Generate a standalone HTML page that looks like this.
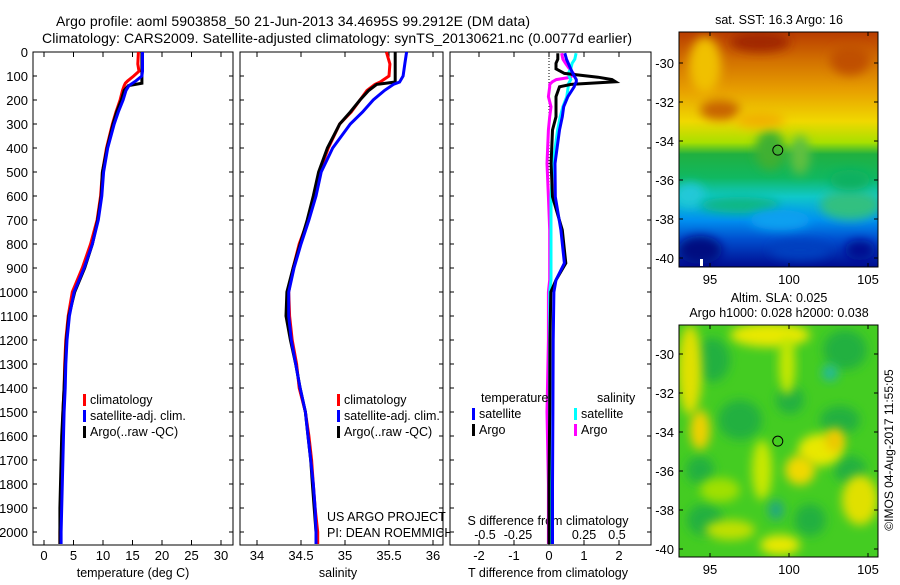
<!DOCTYPE html>
<html><head><meta charset="utf-8"><style>
html,body{margin:0;padding:0;background:#fff}
svg text{font-family:"Liberation Sans",sans-serif;fill:#000}
</style></head><body>
<svg id="c" width="900" height="580" viewBox="0 0 900 580" xmlns="http://www.w3.org/2000/svg">
<defs>
<linearGradient id="sstg" x1="0" y1="0" x2="0" y2="1">
<stop offset="0" stop-color="#b83c00"/><stop offset="0.12" stop-color="#d27000"/>
<stop offset="0.25" stop-color="#e8a000"/><stop offset="0.38" stop-color="#f0d800"/>
<stop offset="0.47" stop-color="#a8e000"/><stop offset="0.52" stop-color="#20b040"/>
<stop offset="0.62" stop-color="#10b860"/><stop offset="0.70" stop-color="#10c8c8"/>
<stop offset="0.80" stop-color="#0090f0"/><stop offset="0.88" stop-color="#0050d0"/>
<stop offset="1" stop-color="#000c90"/></linearGradient>
<filter id="bl" x="-50%" y="-50%" width="200%" height="200%"><feGaussianBlur stdDeviation="5"/></filter>
<clipPath id="cm1"><rect x="679" y="32" width="199" height="235"/></clipPath>
<clipPath id="cm2"><rect x="679" y="325" width="199" height="232"/></clipPath>
</defs>
<text x="293" y="26" text-anchor="middle" font-size="14" textLength="474">Argo profile: aoml 5903858_50 21-Jun-2013 34.4695S 99.2912E (DM data)</text>
<text x="337" y="43" text-anchor="middle" font-size="14" textLength="590">Climatology: CARS2009. Satellite-adjusted climatology: synTS_20130621.nc (0.0077d earlier)</text>
<g id="panels"></g>
<g id="maps"></g>
<text transform="translate(893,450) rotate(-90)" text-anchor="middle" font-size="12">©IMOS 04-Aug-2017 11:55:05</text>
</svg>
<script>
const NS="http://www.w3.org/2000/svg";
const depthTicks=[0,100,200,300,400,500,600,700,800,900,1000,1100,1200,1300,1400,1500,1600,1700,1800,1900,2000];
const tempTicks=[0,5,10,15,20,25,30];
const salTicks=[34,34.5,35,35.5,36];
const salTickLabels=["34","34.5","35","35.5","36"];
const tdTicks=[-2,-1,0,1,2];
const sdTicks=[-0.5,-0.25,0,0.25,0.5];
const sdTickLabels=["-0.5","-0.25","0","0.25","0.5"];
// temperature profiles
const tDepth=[0,50,80,100,120,130,140,160,200,250,300,400,500,600,700,800,900,1000,1100,1200,1300,1400,1500,1600,1700,1800,1900,2000,2050];
const tClim=[16.0,15.9,16.1,15.2,14.2,13.8,13.6,13.3,12.9,12.2,11.6,10.6,9.9,9.6,9.0,7.9,6.5,4.8,4.1,3.7,3.5,3.4,3.2,3.1,3.0,2.9,2.8,2.7,2.7];
const tSat=[16.7,16.7,16.7,16.6,15.6,15.0,14.4,13.9,13.4,12.6,11.9,10.8,10.1,9.8,9.2,8.2,6.8,5.1,4.3,3.9,3.7,3.6,3.4,3.3,3.2,3.1,3.0,2.9,2.9];
const tArgo=[16.6,16.6,16.6,16.6,16.6,16.6,14.3,13.6,13.1,12.3,11.7,10.7,9.9,9.7,9.1,8.2,6.9,5.2,4.2,3.8,3.6,3.4,3.2,3.0,2.9,2.8,2.7,2.7,2.7];
// salinity profiles
const sDepth=[0,50,100,125,135,160,200,250,300,400,500,600,700,800,900,1000,1100,1200,1300,1400,1500,1600,1700,1800,1900,2000,2050];
const sClim=[35.47,35.51,35.5,35.4,35.34,35.25,35.17,35.07,34.94,34.81,34.71,34.66,34.58,34.48,34.41,34.36,34.37,34.40,34.45,34.48,34.55,34.59,34.62,34.64,34.66,34.69,34.69];
const sSat=[35.7,35.68,35.66,35.62,35.55,35.45,35.32,35.2,35.06,34.86,34.73,34.67,34.59,34.50,34.42,34.36,34.36,34.39,34.44,34.49,34.55,34.58,34.61,34.64,34.66,34.67,34.67];
const sArgo=[35.57,35.57,35.57,35.57,35.36,35.27,35.17,35.06,34.94,34.80,34.70,34.64,34.57,34.49,34.41,34.34,34.33,34.38,34.44,34.49,34.55,34.58,34.61,34.63,34.65,34.67,34.67];
// difference profiles
const dDepth=[5,30,47,70,89,105,115,124,135,145,186,228,270,325,464,603,742,880,950,1000,1200,1500,1800,2050];
const tdSat=[0.45,0.5,0.55,0.62,0.68,0.74,0.78,0.78,0.74,0.72,0.54,0.42,0.38,0.3,0.17,0.18,0.34,0.44,0.2,0.14,0.12,0.11,0.1,0.1];
const tdArgo=[0.25,0.25,0.2,0.2,0.44,1.4,1.8,1.9,0.63,0.3,0.2,0.2,0.2,0.1,0.06,0.1,0.38,0.48,0.2,0.05,0.03,0.02,0.0,0.0];
const sdSat=[0.19,0.18,0.16,0.15,0.13,0.14,0.15,0.14,0.13,0.13,0.12,0.09,0.07,0.05,0.015,0.0,0.0,0.0,0.0,-0.01,-0.01,-0.01,-0.01,-0.01];
const sdArgo=[0.08,0.09,0.11,0.14,0.17,0.15,0.04,0.01,-0.01,-0.01,-0.02,0.0,-0.01,-0.02,-0.03,-0.02,-0.01,-0.01,-0.01,-0.02,-0.02,-0.03,-0.02,-0.02];

const TOP=52,BOT=545;
const yD=d=>TOP+d*0.24;
const P1={x0:33,x1:233}, P2={x0:240,x1:443}, P3={x0:450,x1:651};
const xT=v=>44+v*5.9;
const xS=v=>257+(v-34)*88;
const xTD=v=>549+v*35;
const xSD=v=>551+v*132;
const G=document.getElementById('panels');
function el(tag,attrs,parent){const e=document.createElementNS(NS,tag);for(const k in attrs)e.setAttribute(k,attrs[k]);(parent||G).appendChild(e);return e;}
function txt(x,y,s,size,anchor,parent){const t=el('text',{x:x,y:y,'font-size':size,'text-anchor':anchor||'middle'},parent);t.textContent=s;return t;}
function frame(P,name){
  const r=el('rect',{x:P.x0,y:TOP,width:P.x1-P.x0,height:BOT-TOP,fill:'#fff',stroke:'#000','stroke-width':1});
  
  
  depthTicks.forEach(d=>{el('line',{x1:P.x0,x2:P.x0+4,y1:yD(d),y2:yD(d),stroke:'#000'});el('line',{x1:P.x1-4,x2:P.x1,y1:yD(d),y2:yD(d),stroke:'#000'});});
}
function xticks(vals,fx,P,labels,ly,name){
  vals.forEach((v,i)=>{const x=fx(v);el('line',{x1:x,x2:x,y1:TOP,y2:TOP+5,stroke:'#000'});el('line',{x1:x,x2:x,y1:BOT-5,y2:BOT,stroke:'#000'});
    if(labels){const t=txt(x,ly,labels[i],13);}});
}
function line(depths,vals,fx,color,name,w){
  let d='';depths.forEach((dp,i)=>{d+=(i?'L':'M')+fx(vals[i]).toFixed(1)+','+yD(dp).toFixed(1);});
  const p=el('path',{d:d,fill:'none',stroke:color,'stroke-width':w||3,'stroke-linejoin':'miter'});
  
  
}
function legend(x,y,items){
  items.forEach((it,i)=>{el('rect',{x:x,y:y+i*16-10,width:3,height:12,fill:it[1]});txt(x+7,y+i*16,it[0],12.5,'start');});
}
depthTicks.forEach(d=>{const t=txt(28,yD(d)+5,String(d),13,'end');});
frame(P1,'temperature-panel');
xticks(tempTicks,xT,P1,tempTicks.map(String),560,'temperature-tick-label');
txt(133,577,'temperature (deg C)',12.5);
line(tDepth,tClim,xT,'#f00','temp-climatology-line');
line(tDepth,tArgo,xT,'#000','temp-argo-line');
line(tDepth,tSat,xT,'#00f','temp-satellite-line');
legend(83,404,[['climatology','#f00'],['satellite-adj. clim.','#00f'],['Argo(..raw -QC)','#000']]);
frame(P2,'salinity-panel');
xticks(salTicks,xS,P2,salTickLabels,560,'salinity-tick-label');
txt(338,577,'salinity',12.5);
line(sDepth,sClim,xS,'#f00','sal-climatology-line');
line(sDepth,sArgo,xS,'#000','sal-argo-line');
line(sDepth,sSat,xS,'#00f','sal-satellite-line');
legend(337,404,[['climatology','#f00'],['satellite-adj. clim.','#00f'],['Argo(..raw -QC)','#000']]);
txt(327,521,'US ARGO PROJECT',12.5,'start');
txt(327,537,'PI: DEAN ROEMMICH',12.5,'start');
frame(P3,'difference-panel');
xticks(tdTicks,xTD,P3,tdTicks.map(String),560,'tdiff-tick-label');
sdTicks.forEach((v,i)=>{const t=txt(xSD(v),539,sdTickLabels[i],12.5);});
txt(548,525,'S difference from climatology',12.5);
txt(548,577,'T difference from climatology',12.5);
el('line',{x1:xTD(0),x2:xTD(0),y1:TOP,y2:BOT,stroke:'#000','stroke-dasharray':'1,2'});
line(dDepth,sdArgo,xSD,'#f0f','sdiff-argo-line');
line(dDepth,sdSat,xSD,'#0ff','sdiff-satellite-line');
line(dDepth,tdArgo,xTD,'#000','tdiff-argo-line');
line(dDepth,tdSat,xTD,'#00f','tdiff-satellite-line');
txt(481,402,'temperature',12.5,'start');
txt(597,402,'salinity',12.5,'start');
legend(472,418,[['satellite','#00f'],['Argo','#000']]);
legend(574,418,[['satellite','#0ff'],['Argo','#f0f']]);

const M=document.getElementById('maps');
const lonTicks=[95,100,105];
const latTicks=[-30,-32,-34,-36,-38,-40];
const xL=lon=>710+(lon-95)*15.8;
function mapFrame(y0,y1,yl,name){
  const r=el('rect',{x:679,y:y0,width:199,height:y1-y0,fill:'none',stroke:'#000'},M);
  
  
  lonTicks.forEach(v=>{el('line',{x1:xL(v),x2:xL(v),y1:y0,y2:y0+4,stroke:'#000'},M);el('line',{x1:xL(v),x2:xL(v),y1:y1-4,y2:y1,stroke:'#000'},M);txt(xL(v),y1+17,String(v),13,'middle',M);});
  latTicks.forEach(v=>{const y=yl(v);el('line',{x1:679,x2:683,y1:y,y2:y,stroke:'#000'},M);el('line',{x1:874,x2:878,y1:y,y2:y,stroke:'#000'},M);txt(674,y+5,String(v),13,'end',M);});
}
const yL1=lat=>63+(-30-lat)*19.5;
txt(779,24,'sat. SST: 16.3 Argo: 16',12.5,'middle',M);
const g1=el('g',{'clip-path':'url(#cm1)'},M);
el('rect',{x:679,y:32,width:199,height:235,fill:'url(#sstg)'},g1);
const sstBlobs=[[705,65,16,28,'#f0c000'],[760,42,30,10,'#a02800'],[850,60,20,15,'#c05000'],[720,110,20,10,'#c86400'],[770,150,15,20,'#40b030'],[800,155,10,20,'#60c040'],[690,195,15,12,'#20c8d8'],[740,205,40,8,'#10b880'],[850,205,30,15,'#30c080'],[700,250,22,14,'#001080'],[800,250,30,10,'#0040c0'],[860,250,15,10,'#001090'],[780,220,30,10,'#10a0f0'],[850,180,20,10,'#10b060'],[760,120,25,8,'#f0b000']];
sstBlobs.forEach(b=>el('ellipse',{cx:b[0],cy:b[1],rx:b[2],ry:b[3],fill:b[4],filter:'url(#bl)'},g1));
el('rect',{x:700,y:259,width:3,height:7,fill:'#fff'},g1);
mapFrame(32,267,yL1,'sst-map');
el('circle',{cx:xL(99.29),cy:yL1(-34.47),r:5,fill:'none',stroke:'#000'},M);
const yL2=lat=>354+(-30-lat)*19.5;
txt(779,302,'Altim. SLA: 0.025',12.5,'middle',M);
txt(779,317,'Argo h1000: 0.028 h2000: 0.038',12.5,'middle',M);
const g2=el('g',{'clip-path':'url(#cm2)'},M);
el('rect',{x:679,y:325,width:199,height:232,fill:'#44cc22'},g2);
const slaBlobs=[[712,360,18,22,'#20b040'],[740,420,22,20,'#20b040'],[700,470,14,14,'#20b040'],[845,350,22,20,'#20b040'],[840,420,20,14,'#20b040'],[790,400,14,14,'#20b040'],[705,520,18,16,'#20b040'],[850,470,16,14,'#20b040'],[810,520,16,16,'#20b040'],[690,370,12,45,'#e0e000'],[700,430,10,20,'#f0d000'],[770,335,40,12,'#e8e800'],[787,365,8,30,'#c8e800'],[820,450,22,16,'#e8e800'],[835,440,10,12,'#f0c800'],[800,470,15,15,'#f0d800'],[762,470,10,30,'#c8e800'],[720,490,20,12,'#a0e000'],[860,500,18,25,'#e0e000'],[730,530,25,10,'#c0e000'],[780,545,20,10,'#e8e800'],[830,373,8,8,'#20b8a0'],[776,510,8,10,'#20a880']];
slaBlobs.forEach(b=>el('ellipse',{cx:b[0],cy:b[1],rx:b[2],ry:b[3],fill:b[4],filter:'url(#bl)'},g2));
mapFrame(325,557,yL2,'sla-map');
el('circle',{cx:xL(99.29),cy:yL2(-34.47),r:5,fill:'none',stroke:'#000'},M);
</script>
</body></html>
